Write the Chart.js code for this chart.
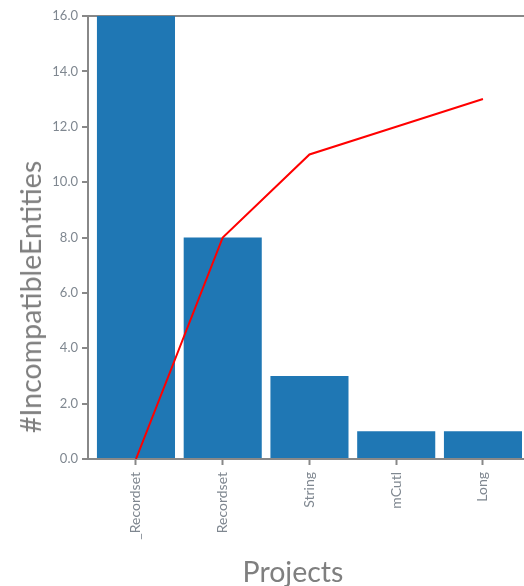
<!DOCTYPE html>
<html>
<head>
<meta charset="utf-8">
<script src="https://cdn.jsdelivr.net/npm/chart.js@4/dist/chart.umd.min.js"></script>
<style>
  html, body { margin: 0; padding: 0; background: #fff; overflow: hidden; }
  #wrap { position: relative; width: 524px; height: 586px; }
  #c { position: absolute; left: 0; top: 0; }
  .ttl { position: absolute; font-family: Lato, "Open Sans", sans-serif; font-size: 28.5px; color: #7f7f7f; white-space: nowrap; line-height: 32px; }
  #ytitle { left: 30px; top: 297px; transform: translate(-50%, -50%) rotate(-90deg); }
  #xtitle { left: 293px; top: 571px; transform: translate(-50%, -50%); }
</style>
</head>
<body>
<div id="wrap">
  <canvas id="c" width="524" height="586"></canvas>
  <div class="ttl" id="ytitle">#IncompatibleEntities</div>
  <div class="ttl" id="xtitle">Projects</div>
</div>
<script>
const categories = ["_Recordset", "Recordset", "String", "mCutl", "Long"];
const barValues = [16, 8, 3, 1, 1];
const lineValues = [0, 8, 11, 12, 13];
const yTicks = [0, 2, 4, 6, 8, 10, 12, 14, 16];

const barData = barValues.map((v, i) => ({ x: i, y: v }));
const lineData = lineValues.map((v, i) => ({ x: i, y: v }));

const tickColor = '#7f8790';
const axisColor = '#888888';

new Chart(document.getElementById('c'), {
  data: {
    datasets: [
      {
        type: 'line',
        data: lineData,
        borderColor: '#ff0000',
        borderWidth: 2,
        pointRadius: 0,
        tension: 0,
        fill: false,
        order: 0
      },
      {
        type: 'bar',
        data: barData,
        backgroundColor: '#1f77b4',
        borderWidth: 0,
        barPercentage: 0.9,
        categoryPercentage: 1.0,
        order: 1
      }
    ]
  },
  options: {
    responsive: false,
    animation: false,
    events: [],
    layout: { padding: { top: 16, right: 0, bottom: 0, left: 0 } },
    plugins: { legend: { display: false }, tooltip: { enabled: false } },
    scales: {
      x: {
        type: 'linear',
        min: -0.553,
        max: 4.473,
        offset: false,
        afterFit: (s) => { s.height = 127; },
        afterBuildTicks: (s) => { s.ticks = categories.map((c, i) => ({ value: i })); },
        ticks: {
          stepSize: 1,
          includeBounds: false,
          minRotation: 90,
          maxRotation: 90,
          autoSkip: false,
          padding: 7,
          color: tickColor,
          font: { family: 'Lato', size: 14 },
          callback: (v) => categories[v] !== undefined ? categories[v] : ''
        },
        grid: { display: true, offset: false, drawOnChartArea: false, drawTicks: true, tickLength: 6, tickColor: axisColor, tickWidth: 2 },
        border: { display: true, color: axisColor, width: 2 }
      },
      y: {
        type: 'linear',
        min: 0,
        max: 16,
        afterFit: (s) => { s.width = 88; },
        afterBuildTicks: (s) => { s.ticks = yTicks.map(v => ({ value: v })); },
        ticks: {
          stepSize: 2,
          padding: 4,
          color: tickColor,
          font: { family: 'Lato', size: 13 },
          callback: (v) => Number(v).toFixed(1)
        },
        grid: {
          display: true,
          drawOnChartArea: true,
          drawTicks: true,
          tickLength: 6,
          tickColor: axisColor,
          tickWidth: 2,
          lineWidth: 2,
          color: (ctx) => (ctx.tick && ctx.tick.value === 16) ? axisColor : 'rgba(0,0,0,0)'
        },
        border: { display: true, color: axisColor, width: 2 }
      }
    }
  }
});
</script>
</body>
</html>
